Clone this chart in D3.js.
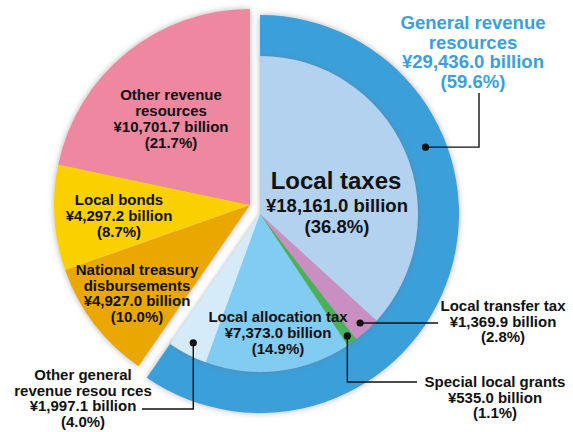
<!DOCTYPE html>
<html><head><meta charset="utf-8">
<script src="https://cdn.jsdelivr.net/npm/d3@7"></script>
<style>
html,body{margin:0;padding:0;background:#fff;}
svg{display:block;font-family:"Liberation Sans",Arial,Helvetica,sans-serif;font-weight:bold;}
</style></head>
<body><svg id="c" width="573" height="432"></svg>
<script>
// ---- data ----
const categories = ["Local taxes","Local transfer tax","Special local grants","Local allocation tax","Other general revenue resources","National treasury disbursements","Local bonds","Other revenue resources"];
const values = [18161.0, 1369.9, 535.0, 7373.0, 1997.1, 4927.0, 4297.2, 10701.7];
const shares = ["36.8%","2.8%","1.1%","14.9%","4.0%","10.0%","8.7%","21.7%"];
const generalFlags = [true,true,true,true,true,false,false,false];
const generalTotal = "¥29,436.0 billion";
const generalShare = "59.6%";
const colors = ["#b2d2f0","#c98ec2","#4cb05a","#80ccf3","#d5ebfa","#e9a700","#fbd000","#ee87a0"];

const svg = d3.select("#c");
const defs = svg.append("defs");
const f = defs.append("filter").attr("id","sh").attr("x","-20%").attr("y","-20%").attr("width","140%").attr("height","140%");
f.append("feDropShadow").attr("dx",0).attr("dy",0).attr("stdDeviation",2.6).attr("flood-color","#777").attr("flood-opacity",0.6);
const f2 = defs.append("filter").attr("id","sh2").attr("x","-20%").attr("y","-20%").attr("width","140%").attr("height","140%");
f2.append("feDropShadow").attr("dx",0).attr("dy",0).attr("stdDeviation",3.2).attr("flood-color","#999").attr("flood-opacity",0.75);

const cx = 260, cy = 214, rIn = 158, rOut = 199;
const explode = {dx:-10, dy:-9, r:196};

const data = categories.map((c,i)=>({name:c, value:values[i], general:generalFlags[i], color:colors[i], share:shares[i]}));
const pie = d3.pie().sort(null).value(d=>d.value).startAngle(0).endAngle(2*Math.PI);
const arcs = pie(data);

const genArcs = arcs.filter(a=>a.data.general);
const otherArcs = arcs.filter(a=>!a.data.general);
const genEnd = genArcs[genArcs.length-1].endAngle;

// outer ring for general revenue
const ringArc = d3.arc().innerRadius(rIn-2).outerRadius(rOut).startAngle(0).endAngle(genEnd);
svg.append("path").attr("transform",`translate(${cx},${cy})`).attr("d",ringArc()).attr("fill","#3a9fda").attr("filter","url(#sh2)");

// inner general slices
const inner = d3.arc().innerRadius(0).outerRadius(rIn);
const gMain = svg.append("g").attr("transform",`translate(${cx},${cy})`).attr("filter","url(#sh)");
gMain.selectAll("path").data(genArcs).join("path").attr("d",inner).attr("fill",d=>d.data.color);

// exploded non-general slices
const outerArc = d3.arc().innerRadius(0).outerRadius(explode.r);
const gEx = svg.append("g").attr("transform",`translate(${cx+explode.dx},${cy+explode.dy})`).attr("filter","url(#sh2)");
gEx.selectAll("path").data(otherArcs).join("path").attr("d",outerArc).attr("fill",d=>d.data.color);

// helpers
function fmt(v){ return "¥" + d3.format(",.1f")(v) + " billion"; }
function label(lines, x, y0, lh, size, color){
  const t = svg.append("text").attr("text-anchor","middle").attr("font-size",size).attr("fill",color||"#111");
  lines.forEach((s,i)=>t.append("tspan").attr("x",x).attr("y",y0+i*lh).text(s));
}
function polar(a, r){ return [cx + r*Math.sin(a), cy - r*Math.cos(a)]; }
function leader(pts){
  svg.append("path").attr("d",d3.line()(pts)).attr("fill","none").attr("stroke","#111").attr("stroke-width",1.4);
  svg.append("circle").attr("cx",pts[0][0]).attr("cy",pts[0][1]).attr("r",3.6).attr("fill","#111");
}
const mid = a => (a.startAngle+a.endAngle)/2;

// labels inside slices
const d = data;
label(["Other revenue","resources",fmt(d[7].value),`(${d[7].share})`],171,100,16,15);
label([d[6].name,fmt(d[6].value),`(${d[6].share})`],119,205,16,15);
label(["National treasury","disbursements",fmt(d[5].value),`(${d[5].share})`],137,275,15.7,15);
label([d[3].name,fmt(d[3].value),`(${d[3].share})`],278,322,16,15);
label([d[0].name],336,189,0,24);
label([fmt(d[0].value),`(${d[0].share})`],337,212,21,18.5);

// general revenue label
label(["General revenue","resources",generalTotal,`(${generalShare})`],473,29,19.5,18.5,"#3a9fda");
const pG = polar(68*Math.PI/180,(rIn+rOut)/2);
leader([pG,[479,pG[1]],[479,93]]);

// local transfer tax
const pT = polar(mid(arcs[1]),148);
leader([pT,[438,pT[1]]]);
label([d[1].name,fmt(d[1].value),`(${d[1].share})`],503,311,15.6,15);

// special local grants
const pS = polar(mid(arcs[2]),150);
leader([pS,[pS[0],382],[417,382]]);
label([d[2].name,fmt(d[2].value),`(${d[2].share})`],495,387,15.6,15);

// other general revenue resources
const pO = polar(mid(arcs[4]),145);
leader([pO,[pO[0],409],[142,409]]);
label(["Other general","revenue resou rces",fmt(d[4].value),`(${d[4].share})`],83,380,15.7,15);
</script></body></html>
